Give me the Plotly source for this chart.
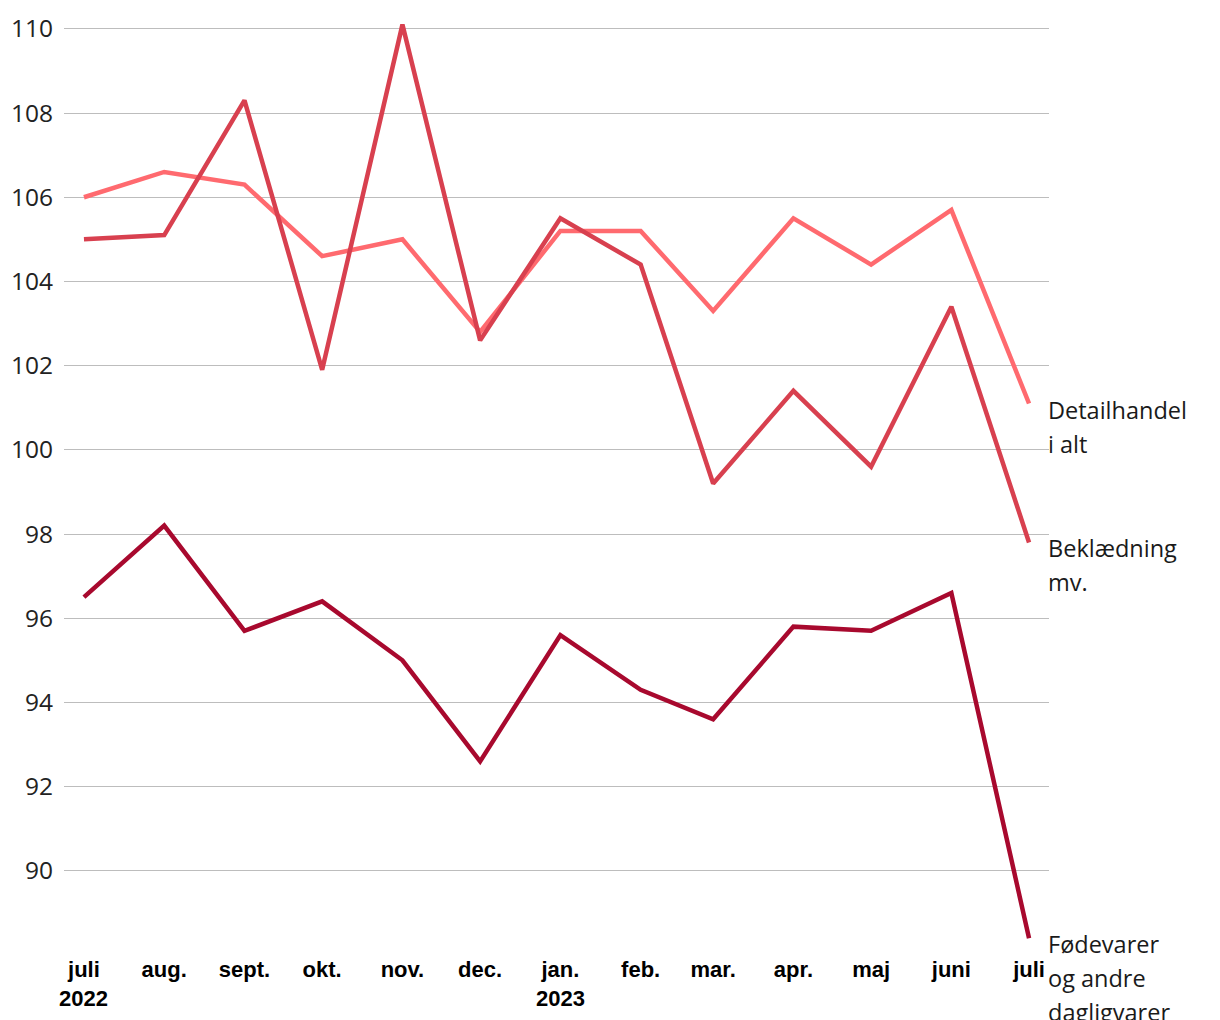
import plotly.graph_objects as go

dates = ["2022-07-01", "2022-08-01", "2022-09-01", "2022-10-01", "2022-11-01", "2022-12-01",
         "2023-01-01", "2023-02-01", "2023-03-01", "2023-04-01", "2023-05-01", "2023-06-01",
         "2023-07-01"]
months = ["juli", "aug.", "sept.", "okt.", "nov.", "dec.", "jan.",
          "feb.", "mar.", "apr.", "maj", "juni", "juli"]
years = {"2022-07-01": "2022", "2023-01-01": "2023"}

detail = [106.0, 106.6, 106.3, 104.6, 105.0, 102.8, 105.2, 105.2, 103.3, 105.5, 104.4, 105.7, 101.1]
beklaed = [105.0, 105.1, 108.3, 101.9, 110.1, 102.6, 105.5, 104.4, 99.2, 101.4, 99.6, 103.4, 97.8]
fode = [96.5, 98.2, 95.7, 96.4, 95.0, 92.6, 95.6, 94.3, 93.6, 95.8, 95.7, 96.6, 88.4]

series = [
    ("Detailhandel i alt", detail, "#FF6A6F", ["Detailhandel", "i alt"]),
    ("Beklædning mv.", beklaed, "#D8404F", ["Beklædning", "mv."]),
    ("Fødevarer og andre dagligvarer", fode, "#A8092E", ["Fødevarer", "og andre", "dagligvarer"]),
]

yticks = [90, 92, 94, 96, 98, 100, 102, 104, 106, 108, 110]

fig = go.Figure()
annotations = []
for name, vals, color, lines in series:
    fig.add_trace(go.Scatter(x=dates, y=vals, mode="lines", name=name,
                             line=dict(color=color, width=4.5), cliponaxis=False))
    for i, t in enumerate(lines):
        annotations.append(dict(
            x=1, xref="paper", y=vals[-1], yref="y", xanchor="left", yanchor="middle",
            yshift=-6 - 34 * i, xshift=-3, text=t, showarrow=False,
            font=dict(family="Open Sans", size=23.5, color="#1a1a1a")))

for xd, yr in years.items():
    annotations.append(dict(
        x=xd, xref="x", y=0, yref="paper", xanchor="center", yanchor="middle",
        yshift=-43, text=yr, showarrow=False,
        font=dict(family="Liberation Sans", size=22, color="#000", weight="bold")))

fig.update_layout(
    width=1220, height=1020,
    margin=dict(l=56, r=179, t=4, b=73),
    paper_bgcolor="white", plot_bgcolor="white",
    showlegend=False,
    annotations=annotations,
    xaxis=dict(type="date", tickmode="array", tickvals=dates, ticktext=months,
               range=["2022-06-23 07:00", "2023-07-08 17:00"],
               showgrid=False, zeroline=False, showline=False,
               tickfont=dict(family="Liberation Sans", size=22, color="#000", weight="bold"),
               ticks="", ticklabelstandoff=-1),
    yaxis=dict(tickmode="array", tickvals=yticks, ticktext=[str(v) for v in yticks],
               range=[88, 110.4], showgrid=True, gridcolor="#BDBDBD", gridwidth=1,
               zeroline=False, showline=False, ticks="", ticklabelstandoff=10,
               tickfont=dict(family="Open Sans", size=24.5, color="#222")),
)

fig.write_html("out.html")
